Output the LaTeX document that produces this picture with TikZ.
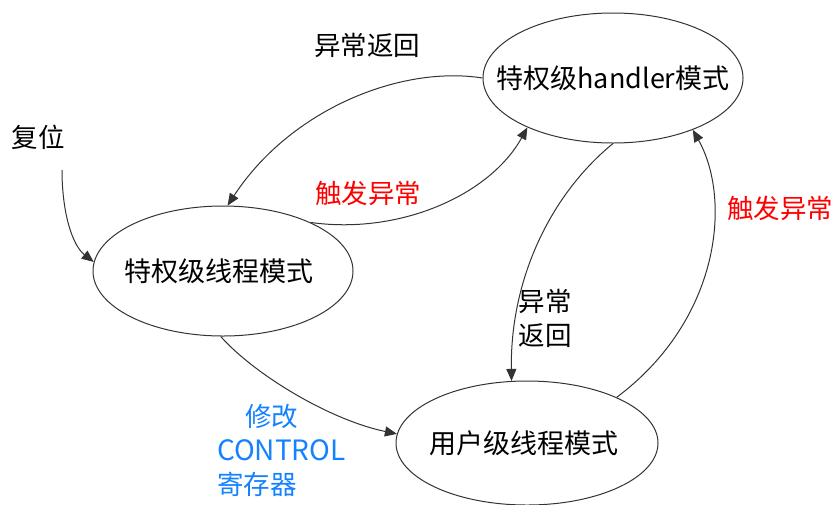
\documentclass[tikz,border=0pt]{standalone}
\usepackage{fontspec}
\setmainfont{Noto Sans CJK SC}
\usetikzlibrary{arrows.meta,shapes.geometric}
\definecolor{trigred}{RGB}{255,0,0}
\definecolor{ctrlblue}{RGB}{20,130,255}
\tikzset{
	mode/.style={ellipse, draw=black!80, line width=1pt, minimum width=260pt, minimum height=130pt, inner sep=0pt, font=\fontsize{27}{34}\selectfont},
	link/.style={draw=black!80, line width=1pt, -{Triangle[length=12pt,width=10pt]}},
	lbl/.style={inner sep=0pt, font=\fontsize{26.5}{34}\selectfont},
}
\newcommand{\modename}[1]{\makebox[0pt]{#1}}

\begin{document}
\begin{tikzpicture}[x=1pt, y=1pt]
	%%%%% START %%%%%
	\useasboundingbox (0, 0) rectangle (834, -504);
	
	\node[mode] (priv) at (223, -271) {\modename{\hspace{-8pt}特权级线程模式}};
	\node[mode] (handler) at (613, -78) {\modename{特权级handler模式}};
	\node[mode, minimum width=262pt, minimum height=124pt] (user) at (527, -443) {\modename{\hspace{-6pt}用户级线程模式}};
	
	\node[lbl] (reset) at (38, -137) {复位};
	\coordinate (resetend) at (62, -170);
	
	\node[lbl] (rettop) at (367, -45) {异常返回};
	\node[lbl, text=trigred] (trigmid) at (368, -193) {触发异常};
	\node[lbl, align=center] (retright) at (545, -318) {异常\\返回};
	\node[lbl, text=trigred] (trigright) at (780, -208) {触发异常};
	\node[lbl, text=ctrlblue, align=left, anchor=west] (ctrl) at (217, -450) {\hspace{28pt}修改\\{\fontsize{28}{34}\selectfont CONTROL}\\寄存器};
	
	\draw[link] (resetend) .. controls (62, -212) and (72, -245) .. (priv.176);
	\draw[link] (handler.180) .. controls (400, -65) and (290, -110) .. (priv.86);
	\draw[link] (priv.29) .. controls (400, -235) and (490, -195) .. (handler.210);
	\draw[link] (handler.south) .. controls (550, -195) and (510, -280) .. (user.104);
	\draw[link] (user.27) .. controls (720, -320) and (732, -200) .. (handler.327);
	\draw[link] (priv.268) .. controls (255, -375) and (330, -420) .. (user.176);
	
	%%%%% END %%%%%
\end{tikzpicture}
\end{document}
